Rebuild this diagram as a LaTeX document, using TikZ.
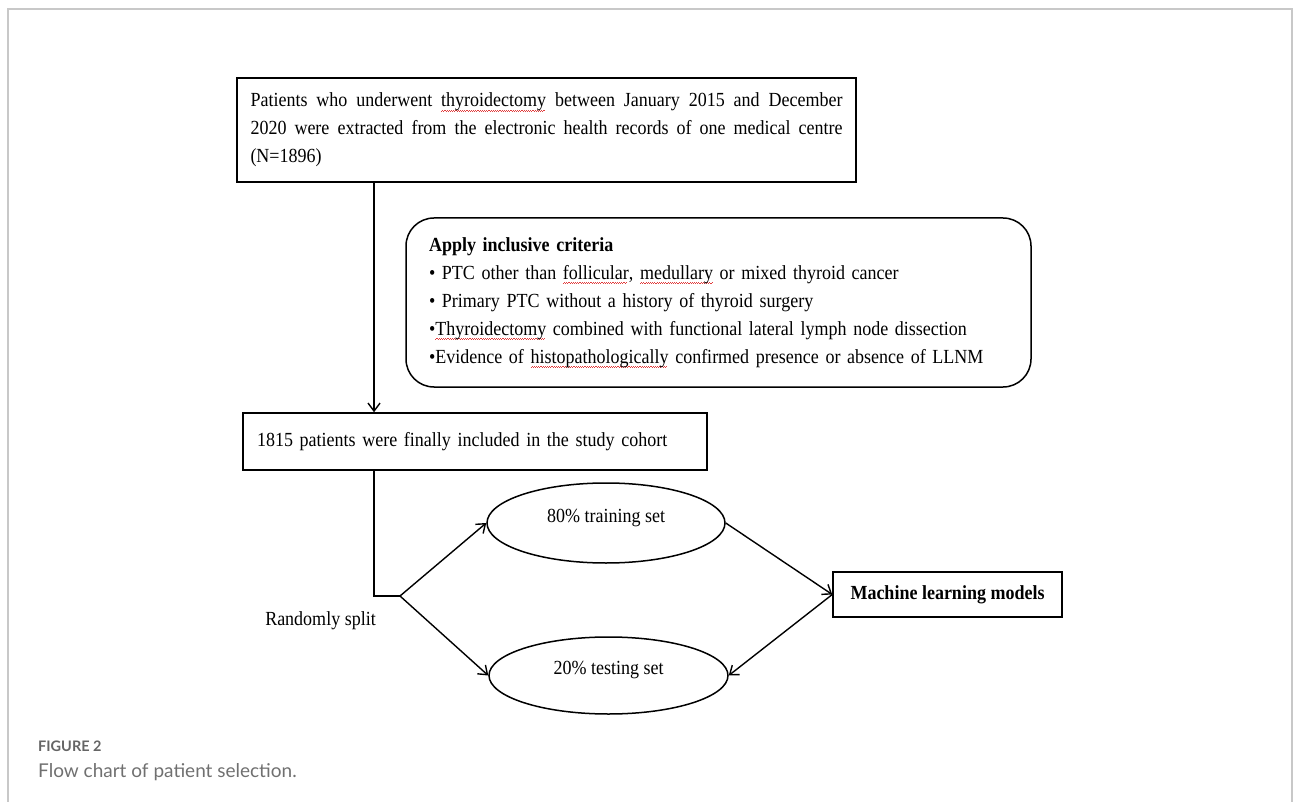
\documentclass[tikz,border=0pt]{standalone}
\usepackage{fontspec}
\usepackage{xcolor}
\setmainfont[FakeStretch=0.9]{Liberation Serif}
\newfontfamily\captionfont{Lato}
\usetikzlibrary{arrows.meta,shapes.geometric}
\definecolor{framegray}{RGB}{200,200,200}
\definecolor{captiongray}{RGB}{112,112,112}
\definecolor{spellred}{RGB}{225,60,60}
% red spell-check wave under a word
\newcommand{\spellwave}[1]{\leavevmode\setbox0\hbox{#1}\rlap{\raisebox{-4.5pt}{\hbox to \wd0{\color{spellred}\leaders\hbox{\rule{1.1pt}{0.6pt}\raisebox{0.8pt}{\rule{1.1pt}{0.6pt}}}\hfill}}}\box0\relax}

\tikzset{
  box/.style={draw, line width=1.5pt, inner ysep=0pt},
  oval/.style={draw, ellipse, line width=1.5pt, inner sep=0pt, text height=13pt, text depth=15pt},
  link/.style={line width=1.4pt, -{Straight Barb[length=8pt,width=12pt]}},
  caption/.style={anchor=base west, inner sep=0pt, text=captiongray}
}

\begin{document}
\begin{tikzpicture}[x=1pt,y=-1pt,font=\fontsize{20}{28}\selectfont]
\useasboundingbox (0,0) rectangle (1293,802);
\draw[framegray, line width=1.5pt] (8,802) -- (8,9) -- (1292,9) -- (1292,802);

% boxes
\node[box, minimum width=619, minimum height=104, text width=592, inner xsep=13.5, align=justify] (records) at (546.5,130)
  {Patients who underwent \spellwave{thyroidectomy} between January 2015 and December\linebreak 2020 were extracted from the electronic health records of one medical centre\linebreak (N=1896)};
\node[box, rounded corners=28pt, minimum width=625, minimum height=169, text width=579, inner xsep=23, align=left] (criteria) at (718.5,302.5)
  {\textbf{Apply inclusive criteria}\\
   • PTC other than \spellwave{follicular}, \spellwave{medullary} or mixed thyroid cancer\\
   • Primary PTC without a history of thyroid surgery\\
   •\spellwave{Thyroidectomy} combined with functional lateral lymph node dissection\\
   •Evidence of \spellwave{histopathologically} confirmed presence or absence of LLNM};
\node[box, minimum width=464, minimum height=57, text width=436, inner xsep=14, align=left] (cohort) at (475,441.5)
  {1815 patients were finally included in the study cohort};
\node[oval, minimum width=238, minimum height=80] (train) at (606,523) {80\% training set};
\node[oval, minimum width=239, minimum height=77] (test) at (608.5,675.5) {20\% testing set};
\node[box, minimum width=229, minimum height=45] (models) at (947.5,594.5) {\textbf{Machine learning models}};
\node (splitlabel) at (320.5,621) {Randomly split};

% connectors
\coordinate (trunk) at (374,0);
\coordinate (split) at (400,596);
\draw[link] (records.south -| trunk) -- (cohort.north -| trunk);
\draw[line width=1.4pt] (cohort.south -| trunk) |- (split);
\draw[link] (split) -- (train.west);
\draw[link] (split) -- (test.west);
\draw[link] (train.east) -- (models.west);
\draw[link] (models.west) -- (test.east);

% caption
\node[caption, font=\captionfont\bfseries\fontsize{14.5}{16}\selectfont, text=captiongray!90!black] (figlabel) at (38,751) {FIGURE 2};
\node[caption, font=\captionfont\fontsize{19}{22}\selectfont] (figcaption) at (38,777) {Flow chart of patient selection.};
\end{tikzpicture}
\end{document}
